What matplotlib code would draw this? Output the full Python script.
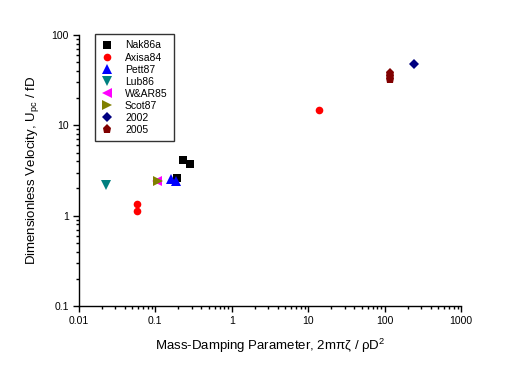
import matplotlib
matplotlib.use("Agg")
from matplotlib import pyplot as plt
from matplotlib.ticker import LogLocator, NullFormatter, FixedLocator, FixedFormatter

plt.rcParams['font.family'] = ['Liberation Sans', 'DejaVu Sans']
plt.rcParams['mathtext.default'] = 'regular'

# data
nak86a_x = [0.23, 0.284, 0.192]
nak86a_y = [4.13, 3.73, 2.61]
axisa84_x = [0.0586, 0.0586, 14.0]
axisa84_y = [1.35, 1.13, 14.7]
pett87_x = [0.16, 0.186]
pett87_y = [2.55, 2.45]
lub86_x = [0.0225]
lub86_y = [2.18]
war85_x = [0.106]
war85_y = [2.42]
scot87_x = [0.109]
scot87_y = [2.42]
y2002_x = [245]
y2002_y = [47.4]
y2005_x = [118, 118, 118]
y2005_y = [37.5, 35.2, 32.5]

series = [
    ("Nak86a", nak86a_x, nak86a_y, "s", "black", 5.5),
    ("Axisa84", axisa84_x, axisa84_y, "o", "red", 5.5),
    ("Pett87", pett87_x, pett87_y, "^", "blue", 6.5),
    ("Lub86", lub86_x, lub86_y, "v", "teal", 6.5),
    ("W&AR85", war85_x, war85_y, "<", "magenta", 6.5),
    ("Scot87", scot87_x, scot87_y, ">", "olive", 6.5),
    ("2002", y2002_x, y2002_y, "D", "navy", 5),
    ("2005", y2005_x, y2005_y, "p", "maroon", 6.5),
]

fig = plt.figure(figsize=(5.05, 3.79), dpi=100)
ax = fig.add_axes([0.156, 0.1926, 0.757, 0.715])

for name, xs, ys, mk, col, ms in series:
    ax.plot(xs, ys, linestyle="none", marker=mk, color=col, markersize=ms,
            markeredgewidth=0, label=name)

ax.set_xscale("log")
ax.set_yscale("log")
ax.set_xlim(0.01, 1000)
ax.set_ylim(0.1, 100)

ax.spines["top"].set_visible(False)
ax.spines["right"].set_visible(False)
ax.spines["left"].set_linewidth(1)
ax.spines["bottom"].set_linewidth(1)

xt = [0.01, 0.1, 1, 10, 100, 1000]
ax.xaxis.set_major_locator(FixedLocator(xt))
ax.xaxis.set_major_formatter(FixedFormatter(["0.01", "0.1", "1", "10", "100", "1000"]))
yt = [0.1, 1, 10, 100]
ax.yaxis.set_major_locator(FixedLocator(yt))
ax.yaxis.set_major_formatter(FixedFormatter(["0.1", "1", "10", "100"]))
for axis in (ax.xaxis, ax.yaxis):
    axis.set_minor_locator(LogLocator(base=10, subs=range(2, 10), numticks=20))
    axis.set_minor_formatter(NullFormatter())

ax.tick_params(which="major", length=4, width=1, labelsize=7.5, pad=3)
ax.tick_params(which="minor", length=2, width=1)

ax.set_xlabel("Mass-Damping Parameter, 2mπζ / ρD$^2$", fontsize=9.5, labelpad=8)
ax.set_ylabel("Dimensionless Velocity, U$_{pc}$ / fD", fontsize=9.5, labelpad=8)

leg = ax.legend(loc="upper left", bbox_to_anchor=(0.042, 1.003), borderaxespad=0,
                fontsize=7.5, frameon=True, fancybox=False, labelspacing=0.2,
                handlelength=1.2, handletextpad=1.1, borderpad=0.6, numpoints=1)
leg.get_frame().set_edgecolor("black")
leg.get_frame().set_linewidth(1)

fig.savefig("out.png", dpi=100)
